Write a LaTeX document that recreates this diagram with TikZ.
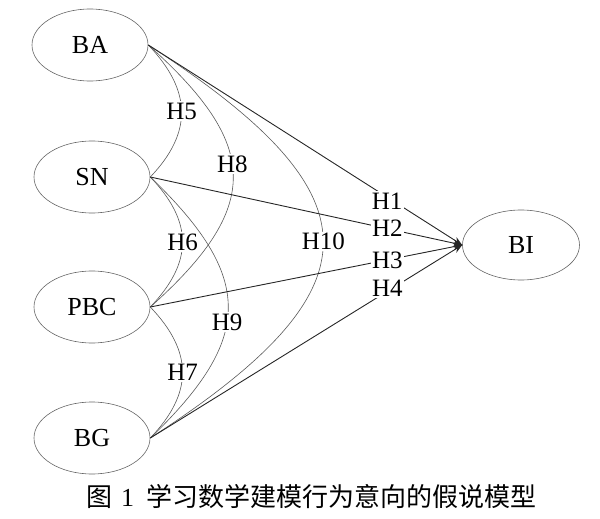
\documentclass[tikz,border=0pt]{standalone}
\usepackage{fontspec}
\setmainfont{Liberation Serif}
\newfontfamily\cjk{Noto Sans CJK SC}
\usetikzlibrary{arrows.meta,shapes.geometric}
\begin{document}
\begin{tikzpicture}[x=1pt,y=-1pt,
  var/.style={draw=black!60,line width=0.6pt,ellipse,minimum width=116pt,minimum height=72pt,inner sep=0pt,font=\fontsize{26}{28}\selectfont},
  lbl/.style={fill=white,inner sep=1.5pt,font=\fontsize{25}{27}\selectfont},
  arr/.style={draw=black!85,line width=0.9pt,-{Stealth[length=9pt,width=7pt]}},
  crv/.style={draw=black!65,line width=0.6pt}]
\useasboundingbox (0,0) rectangle (600,519);
\node[var] (BA) at (90,45) {BA};
\node[var] (SN) at (92,177) {SN};
\node[var] (PBC) at (92,307) {PBC};
\node[var] (BG) at (92,438) {BG};
\node[var,minimum width=117pt,minimum height=70pt] (BI) at (521,245) {BI};
% curved correlations
\draw[crv] (BA.east) .. controls +(43,45) and +(43,-45) .. node[lbl,pos=0.5]{H5} (SN.east);
\draw[crv] (SN.east) .. controls +(43,45) and +(43,-45) .. node[lbl,pos=0.5]{H6} (PBC.east);
\draw[crv] (PBC.east) .. controls +(43,45) and +(43,-45) .. node[lbl,pos=0.5]{H7} (BG.east);
\draw[crv] (BA.east) .. controls +(112,100) and +(112,-100) .. node[lbl,pos=0.45]{H8} (PBC.east);
\draw[crv] (SN.east) .. controls +(104,100) and +(104,-100) .. node[lbl,pos=0.56]{H9} (BG.east);
\draw[crv] (BA.east) .. controls +(232,150) and +(232,-150) .. node[lbl,pos=0.5]{H10} (BG.east);
% paths
\draw[arr] (BA.east) -- node[lbl,pos=0.761,yshift=-4pt]{H1} (BI.west);
\draw[arr] (SN.east) -- node[lbl,pos=0.76]{H2} (BI.west);
\draw[arr] (PBC.east) -- node[lbl,pos=0.76]{H3} (BI.west);
\draw[arr] (BG.east) -- node[lbl,pos=0.76,yshift=3pt]{H4} (BI.west);
\node[font=\fontsize{26}{28}\selectfont,inner sep=0pt] (cap) at (311,497) {{\cjk 图}\hspace{9pt}1\hspace{12pt}{\cjk 学习数学建模行为意向的假说模型}};
\end{tikzpicture}
\end{document}
